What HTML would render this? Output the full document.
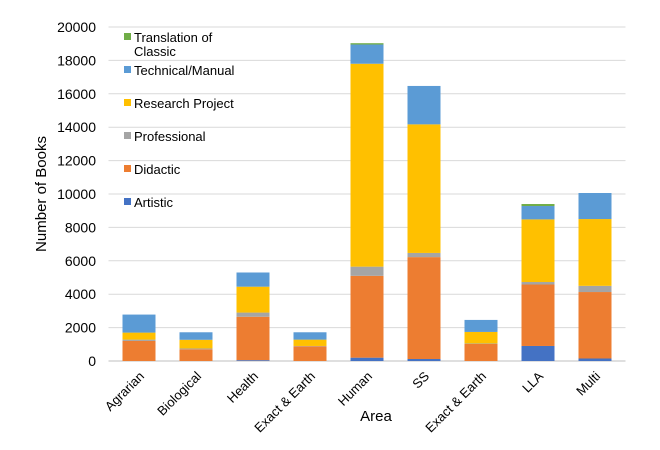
<!DOCTYPE html>
<html><head><meta charset="utf-8"><style>
body{margin:0;background:#fff;font-family:"Liberation Sans",sans-serif}
svg text{font-family:"Liberation Sans",sans-serif;fill:#000}
</style></head><body>
<svg id="chart" width="660" height="445" xmlns="http://www.w3.org/2000/svg">
<g id="grid"></g>
<g id="bars"></g>
<g id="yticks"></g>
<g id="xticks"></g>
<g id="legend"></g>
<text x="376" y="421" font-size="15" text-anchor="middle">Area</text>
<text x="0" y="0" font-size="15" text-anchor="middle" transform="translate(46,194) rotate(-90)">Number of Books</text>
</svg>
<script>
const categories=["Agrarian","Biological","Health","Exact & Earth","Human","SS","Exact & Earth","LLA","Multi"];
const seriesNames=["Artistic","Didactic","Professional","Research Project","Technical/Manual","Translation of Classic"];
const artistic=[0,0,50,0,200,120,0,900,150];
const didactic=[1200,700,2600,880,4900,6100,1020,3680,3980];
const professional=[80,50,250,20,550,250,30,150,370];
const research=[420,520,1550,380,12150,7700,690,3750,4000];
const technical=[1080,450,850,440,1150,2300,720,800,1560];
const translation=[0,0,0,0,80,0,0,120,0];
const yTicks=[0,2000,4000,6000,8000,10000,12000,14000,16000,18000,20000];
const colors=["#4472c4","#ed7d31","#a5a5a5","#ffc000","#5b9bd5","#70ad47"];
const series=[artistic,didactic,professional,research,technical,translation];
const NS="http://www.w3.org/2000/svg";
const X0=110.5,X1=623.5,Y0=361,Y1=27,YMAX=20000;
const step=(X1-X0)/categories.length,bw=33;
const y=v=>Y0-(v/YMAX)*(Y0-Y1);
const xc=i=>X0+step*(i+0.5);
function mk(t,a,p){const e=document.createElementNS(NS,t);for(const k in a)e.setAttribute(k,a[k]);p.appendChild(e);return e;}
const grid=document.getElementById('grid'),yt=document.getElementById('yticks');
yTicks.forEach(v=>{
 const l=mk('line',{x1:X0-2,x2:X1+2,y1:y(v),y2:y(v),stroke:v===0?'#bfbfbf':'#d9d9d9','stroke-width':1},grid);
 
 
 const t=mk('text',{x:96,y:y(v)+5,'font-size':14,'text-anchor':'end'},yt);
 t.textContent=v;
 
 
});
const bars=document.getElementById('bars'),xt=document.getElementById('xticks');
categories.forEach((c,i)=>{
 let acc=0;
 series.forEach((s,k)=>{
  const v=s[i];if(v<=0)return;
  const r=mk('rect',{x:xc(i)-bw/2,y:y(acc+v),width:bw,height:y(acc)-y(acc+v),fill:colors[k]},bars);
  
  
  acc+=v;
 });
 const t=mk('text',{'font-size':13,'text-anchor':'end',transform:`translate(${xc(i)+6},${Y0+16}) rotate(-45)`},xt);
 t.textContent=c;
 
 
});
const lg=document.getElementById('legend');
const ly=[207,174,141,108,75,42];
seriesNames.forEach((n,k)=>{
 const r=mk('rect',{x:124,y:ly[k]-9,width:7,height:7,fill:colors[k]},lg);
 
 
 const t=mk('text',{x:134,y:ly[k],'font-size':13},lg);
 
 
 if(n==="Translation of Classic"){
  const a=mk('tspan',{x:134},t);a.textContent="Translation of";
  const b=mk('tspan',{x:134,dy:14},t);b.textContent="Classic";
 } else t.textContent=n;
});
</script>
</body></html>
